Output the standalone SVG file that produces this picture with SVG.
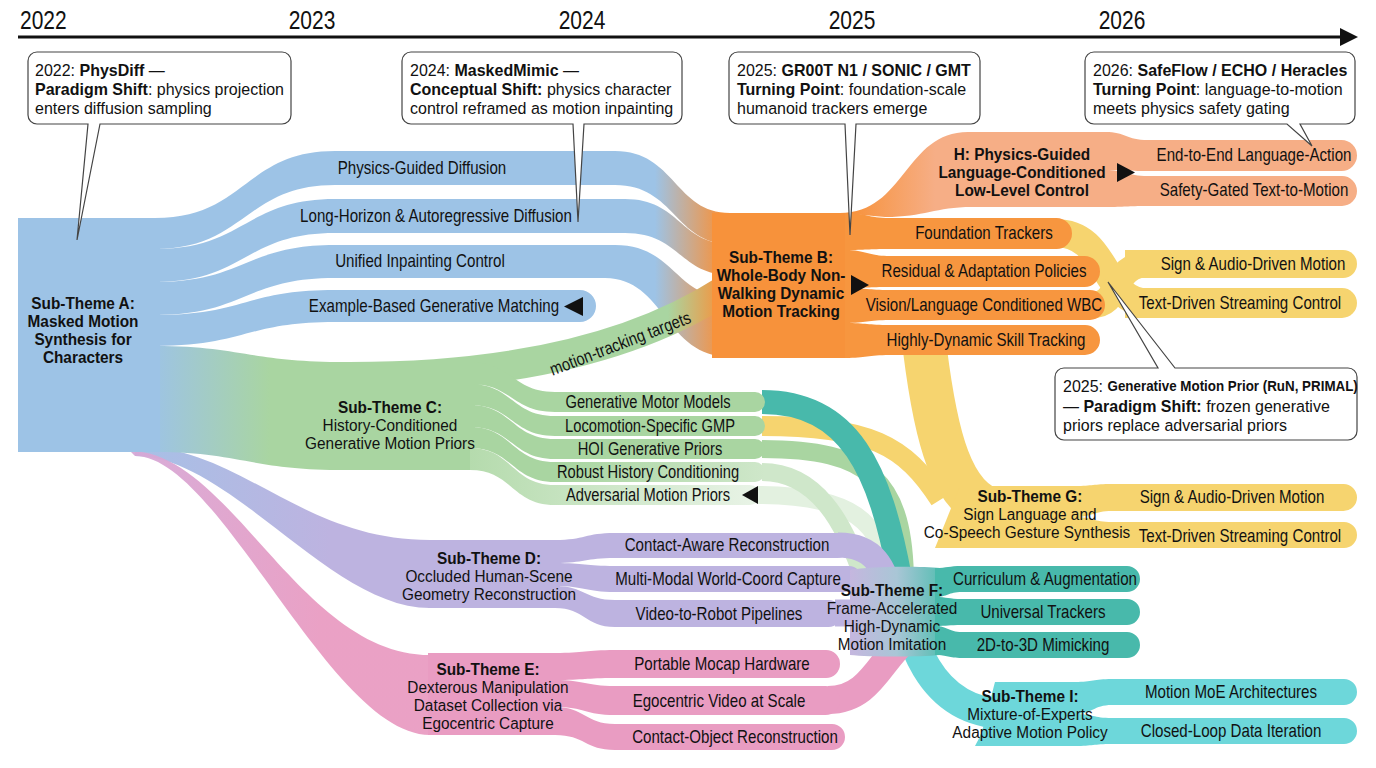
<svg xmlns="http://www.w3.org/2000/svg" width="1376" height="768" viewBox="0 0 1376 768">
<defs>
<style>
.t{font-family:'Liberation Sans','Arimo',Arial,sans-serif;fill:#111;}
.c{text-anchor:middle;dominant-baseline:central;}
.m{dominant-baseline:central;}
.yr{font-size:25px;}
.hd{font-size:16px;font-weight:bold;}
.sb{font-size:16px;}
.bl{font-size:18px;}
.bs{font-size:17.5px;}
.co{font-size:16.5px;}
.b{font-weight:bold;}
.box{fill:#fff;stroke:#444;stroke-width:1.2;}
.blue{fill:#9dc3e6;}
.org{fill:#f7923b;}
.orb{fill:#f7963f;}
.sal{fill:#f6ae86;}
.yel{fill:#f6d46f;}
.grn{fill:#a9d5a1;}
.pur{fill:#bdb3e0;}
.pnk{fill:#e99cc2;}
.teal{fill:#48b9ab;}
.cyan{fill:#6dd7da;}
.sk{fill:none;stroke-linecap:butt;}
</style>
<linearGradient id="gBO" gradientUnits="userSpaceOnUse" x1="655" y1="0" x2="722" y2="0"><stop offset="0" stop-color="#9dc3e6"/><stop offset="1" stop-color="#f7923b"/></linearGradient>
<linearGradient id="gGO" gradientUnits="userSpaceOnUse" x1="668" y1="0" x2="722" y2="0"><stop offset="0" stop-color="#a9d5a1"/><stop offset="1" stop-color="#f7923b"/></linearGradient>
<linearGradient id="gBG" gradientUnits="userSpaceOnUse" x1="150" y1="0" x2="270" y2="0"><stop offset="0" stop-color="#9dc3e6"/><stop offset="1" stop-color="#a9d5a1"/></linearGradient>
<linearGradient id="gBP" gradientUnits="userSpaceOnUse" x1="140" y1="0" x2="330" y2="0"><stop offset="0" stop-color="#a7c0e6"/><stop offset="1" stop-color="#bdb3e0"/></linearGradient>
<linearGradient id="gBK" gradientUnits="userSpaceOnUse" x1="140" y1="0" x2="320" y2="0"><stop offset="0" stop-color="#d6a8d6"/><stop offset="1" stop-color="#e99cc2"/></linearGradient>
<linearGradient id="gOS" gradientUnits="userSpaceOnUse" x1="850" y1="0" x2="935" y2="0"><stop offset="0" stop-color="#f7923b"/><stop offset="1" stop-color="#f6ae86"/></linearGradient>
<linearGradient id="gRH" gradientUnits="userSpaceOnUse" x1="560" y1="0" x2="765" y2="0"><stop offset="0" stop-color="#a9d5a1"/><stop offset="1" stop-color="#cfe7ca"/></linearGradient>
<linearGradient id="gAM" gradientUnits="userSpaceOnUse" x1="470" y1="0" x2="765" y2="0"><stop offset="0" stop-color="#b5dbad"/><stop offset="1" stop-color="#eaf4e8"/></linearGradient>
<linearGradient id="gF" gradientUnits="userSpaceOnUse" x1="848" y1="0" x2="945" y2="0"><stop offset="0" stop-color="#c6b6df"/><stop offset="0.5" stop-color="#a9c6d6"/><stop offset="1" stop-color="#52bdb0"/></linearGradient>
</defs>
<rect width="1376" height="768" fill="#fff"/>

<g id="timeline">
<line x1="18" y1="37" x2="1342" y2="37" stroke="#111" stroke-width="3"/>
<polygon points="1340,28 1358,37 1340,46" fill="#111"/>
<text class="t yr" transform="translate(20 29) scale(.84 1)">2022</text>
<text class="t yr" text-anchor="middle" transform="translate(312 29) scale(.84 1)">2023</text>
<text class="t yr" text-anchor="middle" transform="translate(582 29) scale(.84 1)">2024</text>
<text class="t yr" text-anchor="middle" transform="translate(852 29) scale(.84 1)">2025</text>
<text class="t yr" text-anchor="middle" transform="translate(1122 29) scale(.84 1)">2026</text>
</g>

<g id="connectors">
<path d="M135,446 C240,446 300,540 430,540 L430,608 C330,608 230,456 135,456 Z" fill="url(#gBP)"/>
<path d="M130,451 C230,451 300,655 430,655 L430,735 C330,735 220,456 135,456 Z" fill="url(#gBK)" opacity="0.95"/>
<path d="M155,346 C240,346 250,362 345,362 L345,470 C250,470 240,452 155,452 Z" fill="url(#gBG)"/>
<path d="M155,218 C245,218 245,151 335,151 L615,151 C675,151 675,213 730,213 L730,244 C675,244 675,185 615,185 L335,185 C245,185 245,249 155,249 Z" fill="url(#gBO)"/>
<path d="M155,249 C245,249 245,199 335,199 L625,199 C680,199 680,244 730,244 L730,275 C680,275 680,233 625,233 L335,233 C245,233 245,282 155,282 Z" fill="url(#gBO)"/>
<path d="M155,282 C245,282 245,245 335,245 L615,245 C675,245 675,298 730,298 L730,357 C665,357 665,278 605,278 L335,278 C245,278 245,315 155,315 Z" fill="url(#gBO)"/>
<path d="M155,315 C245,315 245,290 335,290 L580,290 A16,16 0 0 1 580,322 L335,322 C245,322 245,346 155,346 Z" class="blue"/>
<path d="M350,377 C520,377 640,345 725,290" class="sk" stroke="url(#gGO)" stroke-width="30"/>
<path d="M1055,233 C1110,233 1100,303 1150,303" class="sk" stroke="#f6d46f" stroke-width="28"/>
<path d="M1092,305 C1122,305 1110,264 1150,264" class="sk" stroke="#f6d46f" stroke-width="26"/>
<path d="M925,350 C935,430 950,505 1000,512" class="sk" stroke="#f6d46f" stroke-width="44"/>
<path d="M757,495 C850,495 885,520 888,585" class="sk" stroke="#e3f1e0" stroke-width="18"/>
<path d="M762,472 C815,472 845,520 865,585" class="sk" stroke="#cfe7ca" stroke-width="18"/>
<path d="M762,449 C870,449 905,480 905,585" class="sk" stroke="#a9d5a1" stroke-width="18"/>
<path d="M762,426 C870,426 905,445 940,500" class="sk" stroke="#f6d46f" stroke-width="20"/>
<path d="M900,570 C905,640 930,712 1005,714" class="sk" stroke="#6dd7da" stroke-width="30"/>
<path d="M762,402 C850,402 880,470 900,578" class="sk" stroke="#48b9ab" stroke-width="24"/>
<path d="M838,545 C880,545 885,575 893,600" class="sk" stroke="#bdb3e0" stroke-width="25"/>
<path d="M835,613 L875,613" class="sk" stroke="#bdb3e0" stroke-width="27"/>
<path d="M828,700 C870,700 880,660 905,640" class="sk" stroke="#e99cc2" stroke-width="28"/>
</g>

<g id="nodeA">
<rect x="18" y="218" width="142" height="234" class="blue"/>
<text class="t c hd" transform="translate(83 303) scale(.96 1)"><tspan x="0" dy="0">Sub-Theme A:</tspan><tspan x="0" dy="18">Masked Motion</tspan><tspan x="0" dy="18">Synthesis for</tspan><tspan x="0" dy="18">Characters</tspan></text>
<text class="t c bl" transform="translate(422 168) scale(.84 1)">Physics-Guided Diffusion</text>
<text class="t c bl" transform="translate(436 216) scale(.84 1)">Long-Horizon &amp; Autoregressive Diffusion</text>
<text class="t c bl" transform="translate(420 261) scale(.84 1)">Unified Inpainting Control</text>
<text class="t c bl" transform="translate(434 306) scale(.84 1)">Example-Based Generative Matching</text>
<polygon points="583,297 583,316 564,306.5" fill="#111"/>
<text class="t c bs" transform="translate(620 343) rotate(-21) scale(.84 1)">motion-tracking targets</text>
</g>

<g id="nodeB">
<path d="M712,213 L850,213 L850,358 L712,358 Z" class="org"/>
<path d="M845,213 C867,213 867,218 890,218 L1056.5,218 A15.5,15.5 0 0 1 1056.5,249 L890,249 C867,249 867,250 845,250 Z" class="orb"/>
<path d="M845,250 C867,250 867,256 890,256 L1084.5,256 A15.5,15.5 0 0 1 1084.5,287 L890,287 C867,287 867,288 845,288 Z" class="orb"/>
<path d="M845,288 C867,288 867,290 890,290 L1090,290 A15,15 0 0 1 1090,320 L890,320 C867,320 867,323 845,323 Z" class="orb"/>
<path d="M845,323 C867,323 867,325 890,325 L1085,325 A15,15 0 0 1 1085,355 L890,355 C867,355 867,358 845,358 Z" class="orb"/>
<text class="t c hd" transform="translate(781 257) scale(.96 1)"><tspan x="0" dy="0">Sub-Theme B:</tspan><tspan x="0" dy="18">Whole-Body Non-</tspan><tspan x="0" dy="18">Walking Dynamic</tspan><tspan x="0" dy="18">Motion Tracking</tspan></text>
<polygon points="851,275 869,285 851,295" fill="#111"/>
<text class="t c bl" transform="translate(984 233) scale(.84 1)">Foundation Trackers</text>
<text class="t c bl" transform="translate(984 271) scale(.84 1)">Residual &amp; Adaptation Policies</text>
<text class="t c bl" transform="translate(984 305) scale(.84 1)">Vision/Language Conditioned WBC</text>
<text class="t c bl" transform="translate(986 340) scale(.84 1)">Highly-Dynamic Skill Tracking</text>
</g>

<g id="nodeH">
<path d="M840,213 C905,213 905,132 968,132 L1110,132 L1110,207 L972,207 C935,207 925,217 885,217 Z" fill="url(#gOS)"/>
<path d="M1105,132 C1126,132 1126,140 1148,140 L1341.5,140 A15.5,15.5 0 0 1 1341.5,171 L1148,171 C1126,171 1126,170 1105,170 Z" class="sal"/>
<path d="M1105,170 C1126,170 1126,176 1148,176 L1342,176 A15,15 0 0 1 1342,206 L1148,206 C1126,206 1126,207 1105,207 Z" class="sal"/>
<text class="t c hd" transform="translate(1022 154) scale(.96 1)"><tspan x="0" dy="0">H: Physics-Guided</tspan><tspan x="0" dy="18">Language-Conditioned</tspan><tspan x="0" dy="18">Low-Level Control</tspan></text>
<polygon points="1117,163 1135,172.5 1117,182" fill="#111"/>
<text class="t c bl" transform="translate(1254 155) scale(.84 1)">End-to-End Language-Action</text>
<text class="t c bl" transform="translate(1254 190) scale(.84 1)">Safety-Gated Text-to-Motion</text>
</g>

<g id="nodeG-upper">
<path d="M1125,250 L1343,250 A14,14 0 0 1 1343,278 L1125,278 Z" class="yel"/>
<path d="M1125,288 L1342,288 A15,15 0 0 1 1342,318 L1125,318 Z" class="yel"/>
<text class="t c bl" transform="translate(1253 264) scale(.84 1)">Sign &amp; Audio-Driven Motion</text>
<text class="t c bl" transform="translate(1240 303) scale(.84 1)">Text-Driven Streaming Control</text>
</g>

<g id="nodeC">
<rect x="340" y="362" width="135" height="108" class="grn"/>
<path d="M470,362 C512,362 512,392 555,392 L755,392 A10,10 0 0 1 755,412 L555,412 C512,412 512,384 470,384 Z" class="grn"/>
<path d="M470,384 C512,384 512,416 555,416 L755,416 A10,10 0 0 1 755,436 L555,436 C512,436 512,405 470,405 Z" class="grn"/>
<path d="M470,405 C512,405 512,439 555,439 L755,439 A10,10 0 0 1 755,459 L555,459 C512,459 512,427 470,427 Z" class="grn"/>
<path d="M470,427 C512,427 512,462 555,462 L755,462 A10,10 0 0 1 755,482 L555,482 C512,482 512,448 470,448 Z" fill="url(#gRH)"/>
<path d="M470,448 C512,448 512,485 555,485 L750,485 A10,10 0 0 1 750,505 L555,505 C512,505 512,470 470,470 Z" fill="url(#gAM)"/>
<text class="t c sb" transform="translate(390 407) scale(.96 1)"><tspan x="0" dy="0" class="b">Sub-Theme C:</tspan><tspan x="0" dy="18">History-Conditioned</tspan><tspan x="0" dy="18">Generative Motion Priors</tspan></text>
<text class="t c bs" transform="translate(648 402) scale(.84 1)">Generative Motor Models</text>
<text class="t c bs" transform="translate(650 426) scale(.84 1)">Locomotion-Specific GMP</text>
<text class="t c bs" transform="translate(650 449) scale(.84 1)">HOI Generative Priors</text>
<text class="t c bs" transform="translate(648 472) scale(.84 1)">Robust History Conditioning</text>
<text class="t c bs" transform="translate(648 495) scale(.84 1)">Adversarial Motion Priors</text>
<polygon points="758,486 758,504 742,495" fill="#111"/>
</g>

<g id="nodeD">
<rect x="428" y="540" width="132" height="68" class="pur"/>
<path d="M555,540 C585,540 585,533 615,533 L837.5,533 A12.5,12.5 0 0 1 837.5,558 L615,558 C585,558 585,563 555,563 Z" class="pur"/>
<path d="M555,563 C585,563 585,566 615,566 L849,566 A13,13 0 0 1 849,592 L615,592 C585,592 585,586 555,586 Z" class="pur"/>
<path d="M555,586 C585,586 585,600 615,600 L828.5,600 A13.5,13.5 0 0 1 828.5,627 L615,627 C585,627 585,608 555,608 Z" class="pur"/>
<text class="t c sb" transform="translate(489 558) scale(.96 1)"><tspan x="0" dy="0" class="b">Sub-Theme D:</tspan><tspan x="0" dy="18">Occluded Human-Scene</tspan><tspan x="0" dy="18">Geometry Reconstruction</tspan></text>
<text class="t c bl" transform="translate(727 545) scale(.84 1)">Contact-Aware Reconstruction</text>
<text class="t c bl" transform="translate(728 579) scale(.84 1)">Multi-Modal World-Coord Capture</text>
<text class="t c bl" transform="translate(719 614) scale(.84 1)">Video-to-Robot Pipelines</text>
</g>

<g id="nodeE">
<rect x="428" y="653" width="132" height="82" class="pnk"/>
<path d="M555,653 C585,653 585,650 615,650 L826,650 A14,14 0 0 1 826,678 L615,678 C585,678 585,680 555,680 Z" class="pnk"/>
<path d="M555,680 C585,680 585,686 615,686 L825.5,686 A14.5,14.5 0 0 1 825.5,715 L615,715 C585,715 585,707 555,707 Z" class="pnk"/>
<path d="M555,707 C585,707 585,724 615,724 L832,724 A13,13 0 0 1 832,750 L615,750 C585,750 585,735 555,735 Z" class="pnk"/>
<text class="t c sb" transform="translate(488 669) scale(.96 1)"><tspan x="0" dy="0" class="b">Sub-Theme E:</tspan><tspan x="0" dy="18">Dexterous Manipulation</tspan><tspan x="0" dy="18">Dataset Collection via</tspan><tspan x="0" dy="18">Egocentric Capture</tspan></text>
<text class="t c bl" transform="translate(722 664) scale(.84 1)">Portable Mocap Hardware</text>
<text class="t c bl" transform="translate(719 701) scale(.84 1)">Egocentric Video at Scale</text>
<text class="t c bl" transform="translate(735 737) scale(.84 1)">Contact-Object Reconstruction</text>
</g>

<g id="nodeF">
<path d="M850,570 C870,566 920,566 940,568 L940,655 C920,657 870,657 850,655 Z" fill="url(#gF)"/>
<path d="M935,568 C948,568 948,566 962,566 L1127,566 A13,13 0 0 1 1127,592 L962,592 C948,592 948,597 935,597 Z" class="teal"/>
<path d="M935,597 C948,597 948,599 962,599 L1127,599 A13,13 0 0 1 1127,625 L962,625 C948,625 948,626 935,626 Z" class="teal"/>
<path d="M935,626 C948,626 948,632 962,632 L1127,632 A13,13 0 0 1 1127,658 L962,658 C948,658 948,655 935,655 Z" class="teal"/>
<text class="t c sb" transform="translate(892 590) scale(.96 1)"><tspan x="0" dy="0" class="b">Sub-Theme F:</tspan><tspan x="0" dy="18">Frame-Accelerated</tspan><tspan x="0" dy="18">High-Dynamic</tspan><tspan x="0" dy="18">Motion Imitation</tspan></text>
<text class="t c bl" transform="translate(1045 579) scale(.84 1)">Curriculum &amp; Augmentation</text>
<text class="t c bl" transform="translate(1043 612) scale(.84 1)">Universal Trackers</text>
<text class="t c bl" transform="translate(1043 645) scale(.84 1)">2D-to-3D Mimicking</text>
</g>

<g id="nodeG">
<path d="M960,486 L1080,486 L1080,548 L935,548 Z" class="yel"/>
<path d="M1075,486 C1093,486 1093,484 1112,484 L1343.5,484 A13.5,13.5 0 0 1 1343.5,511 L1112,511 C1093,511 1093,517 1075,517 Z" class="yel"/>
<path d="M1075,517 C1093,517 1093,522 1112,522 L1344,522 A13,13 0 0 1 1344,548 L1112,548 C1093,548 1093,548 1075,548 Z" class="yel"/>
<text class="t c sb" transform="translate(1027 496) scale(.96 1)"><tspan x="3" dy="0" class="b">Sub-Theme G:</tspan><tspan x="3" dy="18">Sign Language and</tspan><tspan x="0" dy="18">Co-Speech Gesture Synthesis</tspan></text>
<text class="t c bl" transform="translate(1232 497) scale(.84 1)">Sign &amp; Audio-Driven Motion</text>
<text class="t c bl" transform="translate(1240 536) scale(.84 1)">Text-Driven Streaming Control</text>
</g>

<g id="nodeI">
<path d="M995,682 L1080,682 L1080,746 L975,746 C985,730 990,700 995,682 Z" class="cyan"/>
<path d="M1075,682 C1093,682 1093,679 1112,679 L1344,679 A13,13 0 0 1 1344,705 L1112,705 C1093,705 1093,714 1075,714 Z" class="cyan"/>
<path d="M1075,714 C1093,714 1093,718 1112,718 L1344,718 A13,13 0 0 1 1344,744 L1112,744 C1093,744 1093,746 1075,746 Z" class="cyan"/>
<text class="t c sb" transform="translate(1030 696) scale(.96 1)"><tspan x="0" dy="0" class="b">Sub-Theme I:</tspan><tspan x="0" dy="18">Mixture-of-Experts</tspan><tspan x="0" dy="18">Adaptive Motion Policy</tspan></text>
<text class="t c bl" transform="translate(1231 692) scale(.84 1)">Motion MoE Architectures</text>
<text class="t c bl" transform="translate(1231 731) scale(.84 1)">Closed-Loop Data Iteration</text>
</g>

<g id="callouts">
<g id="callout-2022">
<path class="box" d="M37,52 H282 A9,9 0 0 1 291,61 V115 A9,9 0 0 1 282,124 H100 L77,240 L88,124 H37 A9,9 0 0 1 28,115 V61 A9,9 0 0 1 37,52 Z"/>
<text class="t co m" transform="translate(35 70) scale(.97 1)"><tspan x="0" dy="0">2022: <tspan class="b">PhysDiff</tspan> —</tspan><tspan x="0" dy="19"><tspan class="b">Paradigm Shift</tspan>: physics projection</tspan><tspan x="0" dy="19">enters diffusion sampling</tspan></text>
</g>
<g id="callout-2024">
<path class="box" d="M411,52 H673 A9,9 0 0 1 682,61 V115 A9,9 0 0 1 673,124 H584 L578,222 L573,124 H411 A9,9 0 0 1 402,115 V61 A9,9 0 0 1 411,52 Z"/>
<text class="t co m" transform="translate(410 70) scale(.97 1)"><tspan x="0" dy="0">2024: <tspan class="b">MaskedMimic</tspan> —</tspan><tspan x="0" dy="19"><tspan class="b">Conceptual Shift:</tspan> physics character</tspan><tspan x="0" dy="19">control reframed as motion inpainting</tspan></text>
</g>
<g id="callout-2025">
<path class="box" d="M738,52 H971 A9,9 0 0 1 980,61 V115 A9,9 0 0 1 971,124 H856 L850,235 L845,124 H738 A9,9 0 0 1 729,115 V61 A9,9 0 0 1 738,52 Z"/>
<text class="t co m" transform="translate(737 70) scale(.97 1)"><tspan x="0" dy="0">2025: <tspan class="b">GR00T N1 / SONIC / GMT</tspan></tspan><tspan x="0" dy="19"><tspan class="b">Turning Point</tspan>: foundation-scale</tspan><tspan x="0" dy="19">humanoid trackers emerge</tspan></text>
</g>
<g id="callout-2026">
<path class="box" d="M1094,52 H1346 A9,9 0 0 1 1355,61 V115 A9,9 0 0 1 1346,124 H1300 L1312,146 L1287,124 H1094 A9,9 0 0 1 1085,115 V61 A9,9 0 0 1 1094,52 Z"/>
<text class="t co m" transform="translate(1093 70) scale(.97 1)"><tspan x="0" dy="0">2026: <tspan class="b">SafeFlow / ECHO / Heracles</tspan></tspan><tspan x="0" dy="19"><tspan class="b">Turning Point</tspan>: language-to-motion</tspan><tspan x="0" dy="19">meets physics safety gating</tspan></text>
</g>
<g id="callout-gmp">
<path class="box" d="M1064,368 H1158 L1108,282 L1175,368 H1348 A9,9 0 0 1 1357,377 V431 A9,9 0 0 1 1348,440 H1064 A9,9 0 0 1 1055,431 V377 A9,9 0 0 1 1064,368 Z"/>
<text class="t co m" transform="translate(1063 386) scale(.97 1)"><tspan x="0" dy="0">2025: <tspan class="b" style="font-size:13.8px">Generative Motion Prior (RuN, PRIMAL)</tspan></tspan><tspan x="0" dy="20">— <tspan class="b">Paradigm Shift:</tspan> frozen generative</tspan><tspan x="0" dy="19">priors replace adversarial priors</tspan></text>
</g>
</g>
</svg>
